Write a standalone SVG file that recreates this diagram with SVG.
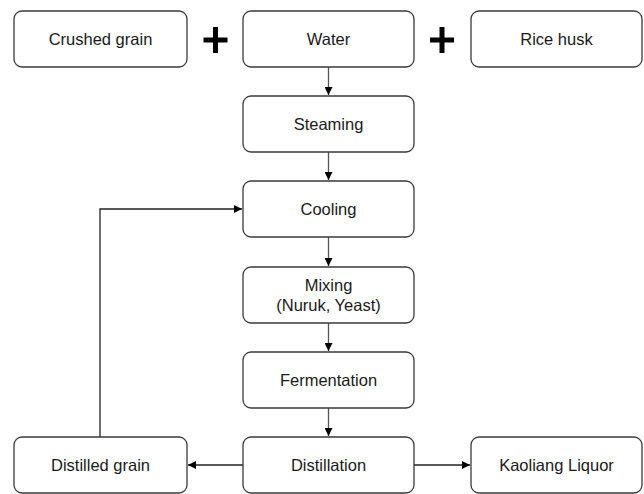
<svg xmlns="http://www.w3.org/2000/svg" width="644" height="494" viewBox="0 0 644 494">
<style>
.box{fill:#fff;stroke:#3a3a3a;stroke-width:1.3}
.t{font-family:"Liberation Sans",Arial,sans-serif;font-size:16.5px;fill:#1a1a1a;text-anchor:middle;dominant-baseline:central}
.c{fill:none;stroke:#222;stroke-width:1.3}
.v{stroke:#555}
.plus{stroke:#000;stroke-width:5;fill:none}
</style>
<defs>
<marker id="ah" viewBox="0 0 10 10" refX="10" refY="5" markerWidth="8" markerHeight="8" markerUnits="userSpaceOnUse" orient="auto">
<path d="M0,0 L10,5 L0,10 Z" fill="#000"/>
</marker>
</defs>
<rect width="644" height="494" fill="#fff"/>
<g id="connectors">
<path class="c v" d="M328.5,67 V95" marker-end="url(#ah)"/>
<path class="c v" d="M328.5,152 V180" marker-end="url(#ah)"/>
<path class="c v" d="M328.5,237 V266" marker-end="url(#ah)"/>
<path class="c v" d="M328.5,323 V351" marker-end="url(#ah)"/>
<path class="c v" d="M328.5,408 V436" marker-end="url(#ah)"/>
<path class="c" d="M243,465 H188" marker-end="url(#ah)"/>
<path class="c" d="M414,465 H470" marker-end="url(#ah)"/>
<path class="c" d="M100,437 V209 H242" marker-end="url(#ah)"/>
</g>
<g id="plus1"><path class="plus" d="M203.5,40 H227.5 M215.5,27 V53"/></g>
<g id="plus2"><path class="plus" d="M430,40 H454 M442,27 V53"/></g>
<g id="crushed"><rect class="box" x="14" y="11" width="173" height="56" rx="8"/><text class="t" x="100.5" y="39">Crushed grain</text></g>
<g id="water"><rect class="box" x="243" y="11" width="171" height="56" rx="8"/><text class="t" x="328.5" y="39">Water</text></g>
<g id="ricehusk"><rect class="box" x="471" y="11" width="171" height="56" rx="8"/><text class="t" x="556.5" y="39">Rice husk</text></g>
<g id="steaming"><rect class="box" x="243" y="96" width="171" height="56" rx="8"/><text class="t" x="328.5" y="124">Steaming</text></g>
<g id="cooling"><rect class="box" x="243" y="181" width="171" height="56" rx="8"/><text class="t" x="328.5" y="209">Cooling</text></g>
<g id="mixing"><rect class="box" x="243" y="267" width="171" height="56" rx="8"/><text class="t" x="328.5" y="285">Mixing</text><text class="t" x="328.5" y="305">(Nuruk, Yeast)</text></g>
<g id="fermentation"><rect class="box" x="243" y="352" width="171" height="56" rx="8"/><text class="t" x="328.5" y="380">Fermentation</text></g>
<g id="distillation"><rect class="box" x="243" y="437" width="171" height="56" rx="8"/><text class="t" x="328.5" y="465">Distillation</text></g>
<g id="distilledgrain"><rect class="box" x="14" y="437" width="173" height="56" rx="8"/><text class="t" x="100.5" y="465">Distilled grain</text></g>
<g id="kaoliang"><rect class="box" x="471" y="437" width="171" height="56" rx="8"/><text class="t" x="556.5" y="465">Kaoliang Liquor</text></g>
</svg>
